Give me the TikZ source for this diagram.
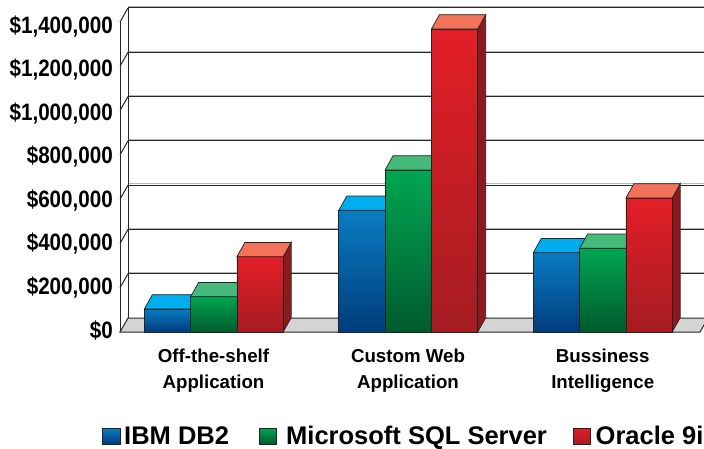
\documentclass[tikz,border=0pt]{standalone}
\usepackage{fontspec}
\setmainfont{Liberation Sans}
\newfontfamily\axisfont[FakeStretch=0.87]{Liberation Sans}
\definecolor{edge}{HTML}{222222}
\definecolor{bluetop}{HTML}{0A7CC2}
\definecolor{bluebot}{HTML}{003C7C}
\definecolor{blueface}{HTML}{00AEEF}
\definecolor{greentop}{HTML}{00A651}
\definecolor{greenbot}{HTML}{005A2D}
\definecolor{greenface}{HTML}{45BA7B}
\definecolor{redtop}{HTML}{E41E27}
\definecolor{redbot}{HTML}{A41C22}
\definecolor{redface}{HTML}{F3735A}
\definecolor{redside}{HTML}{8E1A1E}
\definecolor{floorgray}{HTML}{D4D4D4}
\newcommand\cbar[6]{%
  \filldraw[fill=#6, draw=edge, line width=0.7pt] (#1+46.3,332) -- (#1+54.3,317.7) -- (#1+54.3,332-#2-14.3) -- (#1+46.3,332-#2) -- cycle;
  \draw[draw=edge, line width=0.7pt, top color=#3, bottom color=#4] (#1,332) rectangle (#1+46.3,332-#2);
  \filldraw[fill=#5, draw=edge, line width=0.7pt] (#1,332-#2) -- (#1+8,332-#2-14.3) -- (#1+54.3,332-#2-14.3) -- (#1+46.3,332-#2) -- cycle;
}
\tikzset{
  gridlite/.style={draw=gray!55, line width=0.8pt},
  griddark/.style={draw=black!85, line width=1pt},
  wall/.style={draw=black!85, line width=1pt},
  axislbl/.style={anchor=base east, inner sep=0pt, font=\axisfont\bfseries\fontsize{23.7}{24}\selectfont},
  catlbl/.style={anchor=base, inner sep=0pt, font=\bfseries\fontsize{18.7}{20}\selectfont},
  leglbl/.style={anchor=base west, inner sep=0pt, font=\bfseries\fontsize{25.5}{26}\selectfont},
  legbox/.style={draw=edge, line width=0.6pt},
}
\begin{document}
\begin{tikzpicture}[x=1pt,y=-1pt]
\useasboundingbox (0,0) rectangle (704,448);
% back wall gridlines
\foreach \k in {1,...,7}{
  \draw[gridlite] (128,318-\k*44.29-1.3) -- (704,318-\k*44.29-1.3);
  \draw[griddark] (128,318-\k*44.29) -- (704,318-\k*44.29);
  \draw[wall] (120,332-\k*44.29) -- (128,318-\k*44.29);
}
% left wall
\draw[wall] (120,22) -- (120,332);
\draw[wall] (128,8) -- (128,318);
% floor
\filldraw[fill=floorgray, draw=black!85, line width=1pt] (120,332) -- (128,318) -- (708,318) -- (700,332) -- cycle;
% bars: group 1
\cbar{144.3}{23}{bluetop}{bluebot}{blueface}{bluebot}
\cbar{190.6}{35.3}{greentop}{greenbot}{greenface}{greenbot}
\cbar{236.9}{75.3}{redtop}{redbot}{redface}{redside}
% group 2
\cbar{338.8}{121.7}{bluetop}{bluebot}{blueface}{bluebot}
\cbar{385.1}{162}{greentop}{greenbot}{greenface}{greenbot}
\cbar{431.4}{303}{redtop}{redbot}{redface}{redside}
% group 3
\cbar{533.3}{79.3}{bluetop}{bluebot}{blueface}{bluebot}
\cbar{579.6}{83.7}{greentop}{greenbot}{greenface}{greenbot}
\cbar{625.9}{134}{redtop}{redbot}{redface}{redside}
% axis labels
\node[axislbl] (l0) at (113,338) {\$0};
\node[axislbl] (l1) at (113,338-43.57) {\$200,000};
\node[axislbl] (l2) at (113,338-2*43.57) {\$400,000};
\node[axislbl] (l3) at (113,338-3*43.57) {\$600,000};
\node[axislbl] (l4) at (113,338-4*43.57) {\$800,000};
\node[axislbl] (l5) at (113,338-5*43.57) {\$1,000,000};
\node[axislbl] (l6) at (113,338-6*43.57) {\$1,200,000};
\node[axislbl] (l7) at (113,338-7*43.57) {\$1,400,000};
% category labels
\node[catlbl] (c1a) at (213.5,362) {Off-the-shelf};
\node[catlbl] (c1b) at (213.5,388) {Application};
\node[catlbl] (c2a) at (408,362) {Custom Web};
\node[catlbl] (c2b) at (408,388) {Application};
\node[catlbl] (c3a) at (602.7,362) {Bussiness};
\node[catlbl] (c3b) at (602.7,388) {Intelligence};
% legend
\draw[legbox, top color=bluetop, bottom color=bluebot] (102.7,428) rectangle (120,444);
\node[leglbl] (g1) at (124,444) {IBM DB2};
\draw[legbox, top color=greentop, bottom color=greenbot] (259.3,428) rectangle (276.6,444);
\node[leglbl] (g2) at (286,444) {Microsoft SQL Server};
\draw[legbox, top color=redtop, bottom color=redbot] (573,428) rectangle (590.3,444);
\node[leglbl] (g3) at (595.5,444) {Oracle 9i};
\end{tikzpicture}
\end{document}
